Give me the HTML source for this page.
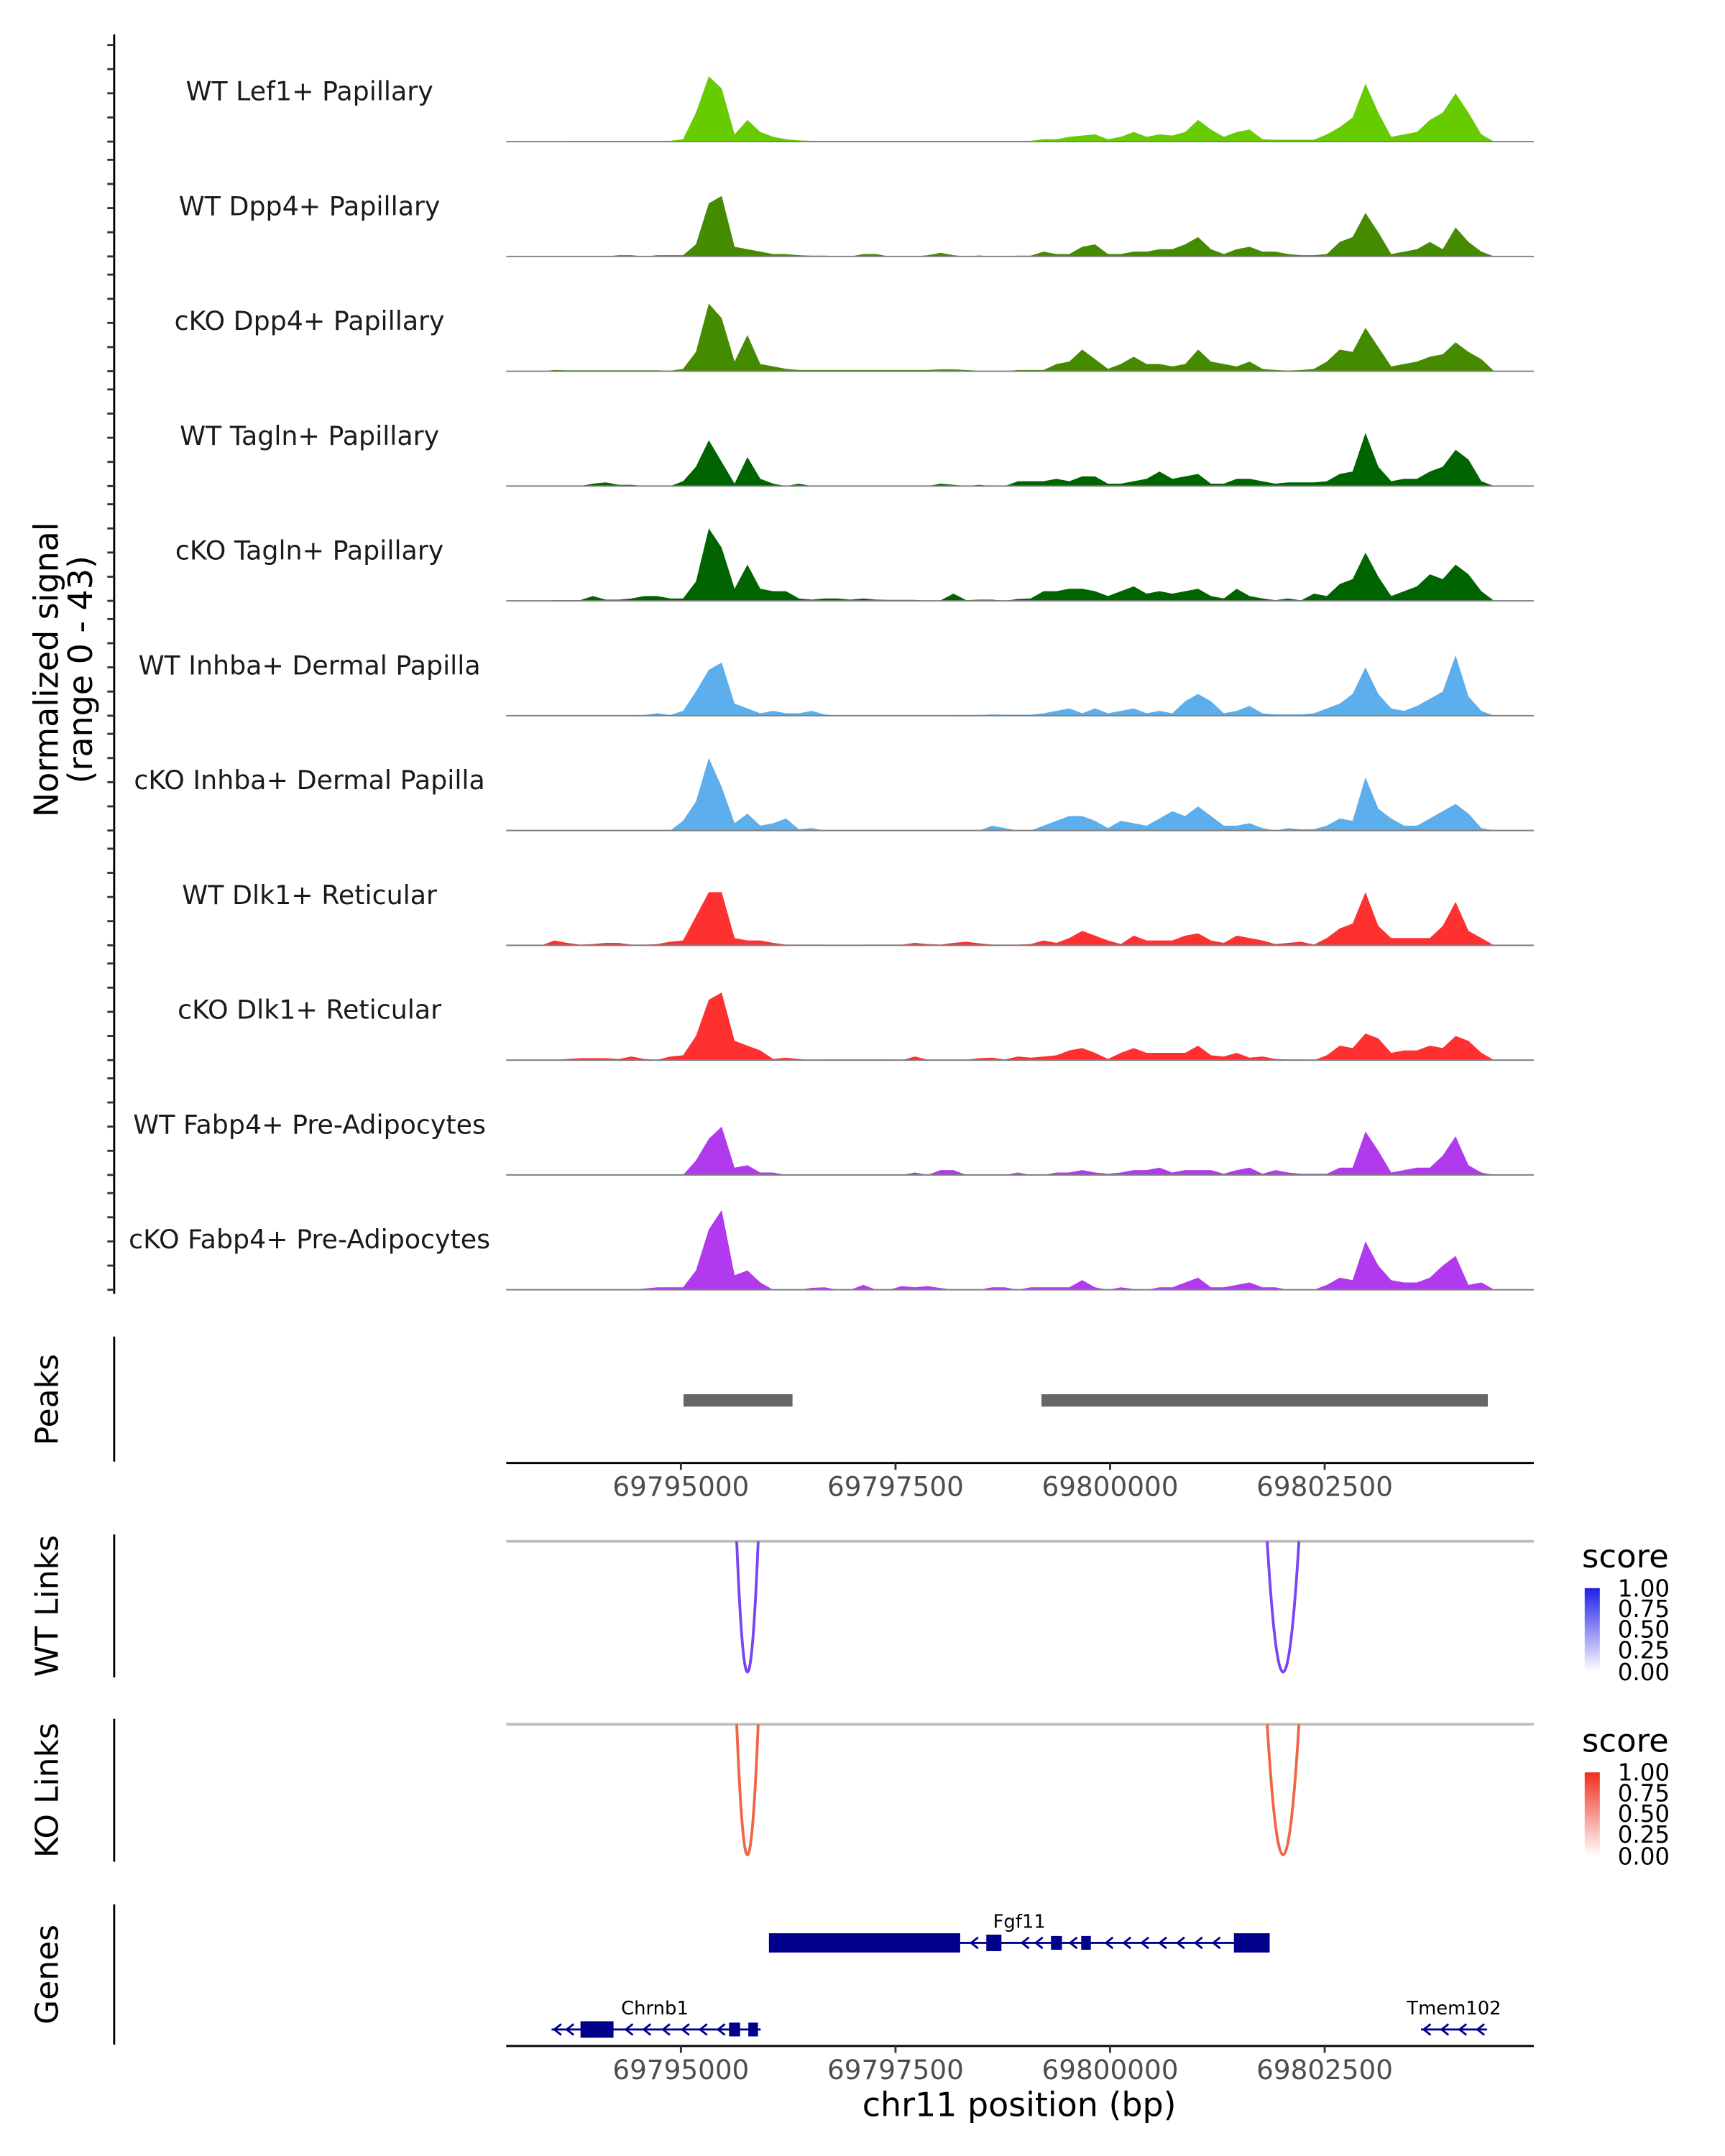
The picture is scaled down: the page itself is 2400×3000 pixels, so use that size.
<!DOCTYPE html>
<html><head><meta charset="utf-8"><style>
html,body{margin:0;padding:0;background:#fff}
svg{display:block}
text{font-family:"DejaVu Sans","Liberation Sans",sans-serif}
</style></head><body>
<svg id="chart" xmlns="http://www.w3.org/2000/svg" width="2400" height="3000" viewBox="0 0 1254 1568" preserveAspectRatio="none">
<g id="tracks"></g>
<g>
<line x1="83" y1="25" x2="83" y2="941" stroke="#000" stroke-width="1.5"/>
<g id="yticks"></g>
<text transform="translate(42,487) rotate(-90)" text-anchor="middle" font-size="24" fill="#000">Normalized signal</text>
<text transform="translate(67,487) rotate(-90)" text-anchor="middle" font-size="24" fill="#000">(range 0 - 43)</text>
</g>
<g>
<line x1="83" y1="972" x2="83" y2="1063" stroke="#000" stroke-width="1.5"/>
<text transform="translate(42,1018) rotate(-90)" text-anchor="middle" font-size="23">Peaks</text>
<g id="peakbars"></g>
<line x1="368" y1="1064" x2="1115" y2="1064" stroke="#000" stroke-width="1.5"/>
<g id="xticks1"></g>
</g>
<g>
<line x1="83" y1="1116" x2="83" y2="1220" stroke="#000" stroke-width="1.5"/>
<text transform="translate(42,1168) rotate(-90)" text-anchor="middle" font-size="23">WT Links</text>
<line x1="368" y1="1121" x2="1115" y2="1121" stroke="#bdbdbd" stroke-width="2"/>
<g id="wtlinks"></g>
<defs>
<linearGradient id="gb" x1="0" y1="1" x2="0" y2="0"><stop offset="0" stop-color="#ffffff"/><stop offset="1" stop-color="#2020e8"/></linearGradient>
<linearGradient id="gr" x1="0" y1="1" x2="0" y2="0"><stop offset="0" stop-color="#ffffff"/><stop offset="1" stop-color="#f0301e"/></linearGradient>
</defs>
<g>
<text x="1150" y="1140" font-size="23.5">score</text>
<rect x="1152" y="1155" width="11" height="61" fill="url(#gb)"/>
<text x="1176" y="1161" font-size="17">1.00</text><text x="1176" y="1176" font-size="17">0.75</text><text x="1176" y="1191" font-size="17">0.50</text><text x="1176" y="1206" font-size="17">0.25</text><text x="1176" y="1222" font-size="17">0.00</text>
</g>
</g>
<g>
<line x1="83" y1="1250" x2="83" y2="1354" stroke="#000" stroke-width="1.5"/>
<text transform="translate(42,1302) rotate(-90)" text-anchor="middle" font-size="23">KO Links</text>
<line x1="368" y1="1254" x2="1115" y2="1254" stroke="#bdbdbd" stroke-width="2"/>
<g id="kolinks"></g>
<g>
<text x="1150" y="1274" font-size="23.5">score</text>
<rect x="1152" y="1289" width="11" height="61" fill="url(#gr)"/>
<text x="1176" y="1295" font-size="17">1.00</text><text x="1176" y="1310" font-size="17">0.75</text><text x="1176" y="1325" font-size="17">0.50</text><text x="1176" y="1340" font-size="17">0.25</text><text x="1176" y="1356" font-size="17">0.00</text>
</g>
</g>
<g>
<line x1="83" y1="1385" x2="83" y2="1487" stroke="#000" stroke-width="1.5"/>
<text transform="translate(42,1436) rotate(-90)" text-anchor="middle" font-size="23">Genes</text>
<g id="genes"></g>
<line x1="368" y1="1488" x2="1115" y2="1488" stroke="#000" stroke-width="1.5"/>
<g id="xticks2"></g>
<text x="741" y="1539" text-anchor="middle" font-size="24">chr11 position (bp)</text>
</g>
</svg>
<script>
const binStart = 69793000;
const binWidth = 150;
const trackLabels = ["WT Lef1+ Papillary","WT Dpp4+ Papillary","cKO Dpp4+ Papillary","WT Tagln+ Papillary","cKO Tagln+ Papillary","WT Inhba+ Dermal Papilla","cKO Inhba+ Dermal Papilla","WT Dlk1+ Reticular","cKO Dlk1+ Reticular","WT Fabp4+ Pre-Adipocytes","cKO Fabp4+ Pre-Adipocytes"];
const trackColors = ["#66cc00","#458b00","#458b00","#006400","#006400","#5daeec","#5daeec","#ff3030","#ff3030","#b23aee","#b23aee"];
const sigWtLef1 = [0,0,0,0,0.3,0.3,0.3,0.3,0.3,0.3,0.3,0.3,0.3,1,12,27,22,3,9,4,2,1,0.5,0.3,0.3,0.3,0.3,0.3,0.3,0.3,0.3,0.3,0.3,0.3,0.3,0.3,0.3,0.3,0.3,0.3,0.3,1,1,2,2.5,3,1,2,4,2,3,2.5,4,9,5,2,4,5,1,0.8,0.8,0.8,0.8,3,6,10,24,12,2,3,4,9,12,20,12,3,0];
const sigWtDpp4 = [0,0,0,0,0,0,0,0,0.5,0.5,0,0.5,0.5,0.5,5,22,25,4,3,2,1,1,0.5,0.3,0.3,0,0,1,1,0,0,0,0.5,1.5,0.5,0,0.4,0,0,0.3,0.3,2,1,1,4,5,1,1,2,2,3,3,5,8,3,1,3,4,2,2,1,0.5,0.5,1,6,8,18,10,1,2,3,6,3,12,6,2,0];
const sigKoDpp4 = [0,0,0,0.5,0.4,0.4,0.4,0.4,0.4,0.4,0.4,0.4,0.2,1,8,28,22,4,15,3,2,1,0.5,0.5,0.5,0.5,0.5,0.5,0.5,0.5,0.5,0.5,0.5,0.8,0.8,0.5,0.2,0,0,0.5,0.5,0.5,3,4,9,5,1,3,6,3,3,2,3,9,4,3,2,4,1,0.5,0.3,0.5,1,4,9,8,18,10,2,3,4,6,7,12,8,5,0];
const sigWtTagln = [0,0,0,0,0,0,1,1.5,0.5,0.5,0,0,0,2,8,19,10,1,12,3,1,0,1,0,0,0,0,0,0,0,0,0,0,1,0.5,0,0.5,0,0,2,2,2,3,2,4,4,1,1,2,3,6,3,4,5,1,1,3,3,2,1,1.5,1.5,1.5,2,5,6,22,8,2,3,3,6,8,15,11,2,0];
const sigKoTagln = [0,0,0,0.3,0.3,0.3,2,0.5,0.5,1,2,2,1,1,8,30,22,5,15,5,4,4,1,0.5,1,1,0.5,1,0.5,0.4,0.4,0.4,0,0.2,3,0.3,0.5,0.5,0,0.8,1,4,4,5,5,4,2,4,6,3,4,3,4,5,2,1,5,2,1,0.3,1,0.2,3,2,7,9,20,10,2,4,6,11,9,15,11,4,0];
const sigWtInhba = [0,0,0,0,0,0,0.3,0,0,0.3,0.3,1,0.3,2,10,19,22,5,3,1,2,1,1,2,0.5,0,0,0,0,0,0,0,0.2,0,0.3,0.3,0.3,0.5,0.4,0.4,0.4,1,2,3,1,3,1,2,3,1,2,1,6,9,6,1,2,4,1,0.5,0.5,0.5,1,3,5,9,20,9,3,2,4,7,10,25,8,2,0];
const sigKoInhba = [0,0,0,0,0,0,0,0,0,0,0,0,0,4,12,30,18,3,7,2,3,5,0.5,1,0,0,0,0,0,0,0,0,0,0,0,0,0,2,1,0,0,2,4,6,6,4,1,4,3,2,5,8,6,10,6,2,2,3,1,0,1,0.5,0.5,2,5,4,22,9,5,2,2,5,8,11,7,1,0];
const sigWtDlk1 = [0,0,0,2,1,0.3,0.5,1,1,0.3,0.3,0.5,1.5,2,12,22,22,3,2,2,1,0.3,0.3,0.3,0.3,0,0,0.3,0.3,0.3,0.3,1,0.5,0.3,1,1.5,0.8,0.3,0.3,0.3,0.5,2,1,3,6,4,2,0.5,4,2,2,2,4,5,2,1,4,3,2,0.5,1,1.5,0.3,3,7,9,22,8,3,3,3,3,8,18,6,3,0];
const sigKoDlk1 = [0,0,0,0,0.5,0.8,0.8,0.8,0.5,1.5,0.5,0.2,1.5,2,10,25,28,8,6,4,0.5,1,0.5,0,0.3,0.3,0.3,0.3,0.3,0.3,0,1.5,0.2,0.2,0.2,0.2,0.8,1,0.3,1.5,1,1.5,2,4,5,3,0.5,3,5,3,3,3,3,6,2,1.5,3,1,1.5,0.5,0.3,0.3,0,2,6,5,11,9,3,4,4,6,5,10,8,3,0];
const sigWtFabp4 = [0,0,0,0,0,0,0,0,0,0,0,0,0,0,6,15,20,3,4,1,1,0,0,0,0,0,0,0,0,0,0,1,0,2,2,0,0,0,0,1,0,0,1,1,2,1,0.5,1,2,2,3,1,2,2,2,0.5,2,3,0.5,2,1,0.5,0.5,0.5,3,3,18,10,1,2,3,3,8,16,4,1,0];
const sigKoFabp4 = [0,0,0,0,0,0,0,0,0,0,0.5,1,1,1,8,25,33,6,8,3,0,0,0,0.8,1,0,0,2,0,0,1.5,1,1.5,0.7,0,0,0,1,1,0,1,1,1,1,4,1,0,1,0.3,0,1,1,3,5,1,1,2,3,1,1,0,0,0,2,5,4,20,10,4,3,3,5,10,14,2,3,0];
const signals = [sigWtLef1,sigWtDpp4,sigKoDpp4,sigWtTagln,sigKoTagln,sigWtInhba,sigKoInhba,sigWtDlk1,sigKoDlk1,sigWtFabp4,sigKoFabp4];
const yMax = 43;
const yTickValues = [0,10,20,30,40];
const xTickValues = [69795000,69797500,69800000,69802500];
const peakStarts = [69795030,69799200];
const peakEnds = [69796300,69804400];
const wtLinkStarts = [69795650,69801830];
const wtLinkEnds = [69795900,69802200];
const koLinkStarts = [69795650,69801830];
const koLinkEnds = [69795900,69802200];

const NS = "http://www.w3.org/2000/svg";
const X0 = 368, X1 = 1115;
function xScale(bp){ return 495 + (bp - 69795000) * (156/2500); }
const trackBase0 = 103, trackStep = 83.5, unitPx = 1.757;
function yScale(track, v){ return trackBase0 + track*trackStep - v*unitPx; }
function mk(tag, attrs, parent){ const e = document.createElementNS(NS, tag); for (const k in attrs) e.setAttribute(k, attrs[k]); parent.appendChild(e); return e; }

const tracksG = document.getElementById('tracks');
const yt = document.getElementById('yticks');
signals.forEach((arr, t) => {
  const base = yScale(t, 0);
  let pts = [xScale(binStart).toFixed(2) + ',' + base];
  arr.forEach((v, i) => {
    pts.push(xScale(binStart + binWidth*i + binWidth/2).toFixed(2) + ',' + yScale(t, v).toFixed(2));
  });
  pts.push(xScale(binStart + binWidth*arr.length).toFixed(2) + ',' + base);
  const poly = mk('polygon', {points: pts.join(' '), fill: trackColors[t]}, tracksG);
  
  
  const bl = mk('line', {x1: X0, x2: X1, y1: base, y2: base, stroke: '#7f7f7f', 'stroke-width': 1}, tracksG);
  
  
  const lab = mk('text', {x: 225, y: base - 30, 'text-anchor': 'middle', 'font-size': 19, fill: '#1a1a1a'}, tracksG);
  lab.textContent = trackLabels[t];
  
  
  yTickValues.forEach(v => {
    const y = yScale(t, v);
    const tk = mk('line', {x1: 78, x2: 83, y1: y, y2: y, stroke: '#333', 'stroke-width': 1.5}, yt);
    
    
  });
});

const pb = document.getElementById('peakbars');
peakStarts.forEach((s, i) => {
  const r = mk('rect', {x: xScale(s), y: 1014, width: xScale(peakEnds[i]) - xScale(s), height: 9, fill: '#666666'}, pb);
  
  
});

function drawXTicks(gid, yAxis){
  const g = document.getElementById(gid);
  xTickValues.forEach(v => {
    const x = xScale(v);
    const l = mk('line', {x1: x, x2: x, y1: yAxis, y2: yAxis + 5, stroke: '#333', 'stroke-width': 1.5}, g);
    
    
    const tx = mk('text', {x: x, y: yAxis + 24, 'text-anchor': 'middle', 'font-size': 19.5, fill: '#4d4d4d'}, g);
    tx.textContent = String(v);
    
    
  });
}
drawXTicks('xticks1', 1064);
drawXTicks('xticks2', 1488);

function drawLinks(gid, starts, ends, top, bottom, color){
  const g = document.getElementById(gid);
  starts.forEach((s, i) => {
    const a = xScale(s), b = xScale(ends[i]), m = (a + b)/2;
    const cy = 2*bottom - top;
    const p = mk('path', {d: `M${a},${top} Q${m},${cy} ${b},${top}`, fill: 'none', stroke: color, 'stroke-width': 2}, g);
    
    
  });
}
drawLinks('wtlinks', wtLinkStarts, wtLinkEnds, 1121, 1216, '#7845f2');
drawLinks('kolinks', koLinkStarts, koLinkEnds, 1254, 1349, '#f26446');

const gg = document.getElementById('genes');
const geneColor = '#00008b';
function gene(name, y, x1, x2, boxes, labelX, arrows){
  const l = mk('line', {x1: x1, x2: x2, y1: y, y2: y, stroke: geneColor, 'stroke-width': 1.5}, gg);
  
  
  boxes.forEach(b => {
    const r = mk('rect', {x: b[0], y: y - b[2]/2, width: b[1] - b[0], height: b[2], fill: geneColor}, gg);
    
    
  });
  arrows.forEach(ax => {
    const p = mk('path', {d: `M${ax+3},${y-4} L${ax-2},${y} L${ax+3},${y+4}`, fill: 'none', stroke: geneColor, 'stroke-width': 1.5}, gg);
    
    
  });
  const t = mk('text', {x: labelX, y: y - 11, 'text-anchor': 'middle', 'font-size': 13.5, fill: '#000'}, gg);
  t.textContent = name;
  
  
}
gene('Fgf11', 1413, 559, 923, [[559,698,14],[717,728,12],[764,772,10],[786,793,10],[897,923,14]], 741, [708,745,755,780,806,819,832,845,858,871,884]);
gene('Chrnb1', 1476, 401, 553, [[422,446,12],[530,538,10],[544,551,10]], 476, [405,414,457,470,484,498,511,524]);
gene('Tmem102', 1476, 1033, 1081, [], 1057, [1037,1050,1063,1076]);
</script>
</body></html>
